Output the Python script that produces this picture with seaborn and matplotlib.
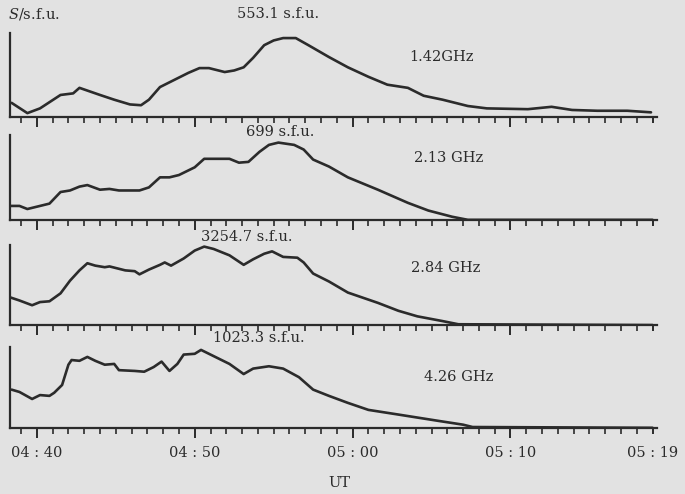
# radio burst light curves at four frequencies
import numpy as np
import pandas as pd
from matplotlib import pyplot as plt
import seaborn as sns

# time in minutes after 04:40 UT, flux relative to the peak of each band
t_142 = [-1.6, -0.6, 0.2, 1.5, 2.3, 2.7, 4.0, 4.9, 5.9, 6.6, 7.1, 7.8, 8.7, 9.6, 10.3, 10.9,
         11.9, 12.5, 13.1, 13.7, 14.4, 15.0, 15.6, 16.4, 17.2, 18.5, 19.7, 21.0, 22.2, 23.5,
         24.5, 25.7, 27.3, 28.5, 31.1, 32.6, 33.9, 35.5, 37.4, 38.9]
f_142 = [0.18, 0.05, 0.11, 0.28, 0.30, 0.37, 0.28, 0.22, 0.16, 0.15, 0.22, 0.38, 0.47, 0.56,
         0.62, 0.62, 0.57, 0.59, 0.63, 0.75, 0.91, 0.97, 1.00, 1.00, 0.91, 0.76, 0.63, 0.51,
         0.41, 0.37, 0.27, 0.22, 0.14, 0.11, 0.10, 0.13, 0.09, 0.08, 0.08, 0.06]

t_213 = [-1.7, -1.1, -0.6, 0.2, 0.8, 1.5, 2.1, 2.7, 3.2, 4.0, 4.6, 5.2, 6.5, 7.1, 7.8, 8.4,
         9.0, 10.0, 10.6, 11.2, 12.2, 12.8, 13.4, 14.1, 14.7, 15.3, 16.3, 16.9, 17.5, 18.5,
         19.7, 21.6, 23.5, 24.8, 26.3, 27.3, 39.0]
f_213 = [0.18, 0.18, 0.14, 0.18, 0.21, 0.36, 0.38, 0.43, 0.45, 0.39, 0.40, 0.38, 0.38, 0.42,
         0.55, 0.55, 0.58, 0.68, 0.79, 0.79, 0.79, 0.74, 0.75, 0.88, 0.97, 1.00, 0.97, 0.91,
         0.78, 0.69, 0.55, 0.39, 0.22, 0.12, 0.04, 0.0, 0.0]

t_284 = [-1.7, -1.1, -0.3, 0.2, 0.8, 1.5, 2.1, 2.7, 3.2, 3.7, 4.3, 4.6, 5.6, 6.2, 6.5, 7.1,
         7.8, 8.1, 8.5, 9.3, 10.0, 10.6, 11.2, 12.2, 13.1, 13.7, 14.4, 14.9, 15.6, 16.5, 16.9,
         17.5, 18.5, 19.7, 21.6, 22.9, 24.1, 25.7, 26.7, 39.0]
f_284 = [0.35, 0.31, 0.25, 0.29, 0.30, 0.40, 0.56, 0.69, 0.78, 0.75, 0.73, 0.74, 0.69, 0.68,
         0.64, 0.70, 0.76, 0.79, 0.75, 0.84, 0.94, 0.99, 0.96, 0.88, 0.76, 0.83, 0.90, 0.93,
         0.86, 0.85, 0.79, 0.65, 0.55, 0.41, 0.28, 0.18, 0.11, 0.05, 0.01, 0.0]

t_426 = [-1.6, -1.1, -0.3, 0.2, 0.8, 1.1, 1.6, 2.0, 2.2, 2.7, 3.2, 3.7, 4.3, 4.9, 5.2, 6.2,
         6.8, 7.4, 7.9, 8.4, 8.9, 9.3, 10.0, 10.4, 11.2, 12.2, 13.1, 13.7, 14.7, 15.6, 16.6,
         17.5, 18.5, 19.7, 21.0, 22.9, 25.4, 27.0, 27.6, 39.0]
f_426 = [0.49, 0.46, 0.37, 0.42, 0.41, 0.45, 0.55, 0.81, 0.87, 0.86, 0.91, 0.86, 0.81, 0.82,
         0.74, 0.73, 0.72, 0.78, 0.85, 0.73, 0.82, 0.94, 0.95, 1.00, 0.92, 0.82, 0.69, 0.76,
         0.79, 0.76, 0.65, 0.49, 0.41, 0.32, 0.23, 0.17, 0.09, 0.04, 0.01, 0.0]

bands = ['1.42GHz', '2.13 GHz', '2.84 GHz', '4.26 GHz']
peaks = [553.1, 699, 3254.7, 1023.3]
tick_pos = [0, 10, 20, 30, 39]
tick_labels = ['04 : 40', '04 : 50', '05 : 00', '05 : 10', '05 : 19']

times = [t_142, t_213, t_284, t_426]
fluxes = [f_142, f_213, f_284, f_426]

# panel boxes (figure fraction), headroom above peak, label spots
boxes = [[0.0146, 0.763, 0.945, 0.170],
         [0.0146, 0.555, 0.945, 0.172],
         [0.0146, 0.342, 0.945, 0.162],
         [0.0146, 0.134, 0.945, 0.164]]
head = [1.063, 1.10, 1.01, 1.04]
peak_lab = [(15.3, 1.226), (15.4, 1.035), (13.3, 1.10), (14.05, 1.11)]
band_lab = [(25.6, 0.71), (26.1, 0.73), (25.9, 0.71), (26.7, 0.63)]

ink = '#2b2b2b'
paper = '#e2e2e2'

sns.set_theme(style='white')
plt.rcParams['font.family'] = ['DejaVu Serif']
plt.rcParams['mathtext.fontset'] = 'dejavuserif'

fig = plt.figure(figsize=(6.85, 4.94), dpi=100, facecolor=paper)

for i in range(4):
    ax = fig.add_axes(boxes[i])
    ax.set_facecolor(paper)
    df = pd.DataFrame({'t': times[i], 'S': np.array(fluxes[i]) * peaks[i]})
    sns.lineplot(data=df, x='t', y='S', color=ink, linewidth=1.9, ax=ax)
    ax.set_xlim(-1.7, 39.3)
    ax.set_ylim(0, peaks[i] * head[i])

    sns.despine(ax=ax)
    for s in ['left', 'bottom']:
        ax.spines[s].set_color(ink)
        ax.spines[s].set_linewidth(1.6)

    ax.set_yticks([])
    ax.set_xticks(tick_pos)
    ax.set_xticks(np.arange(-1, 40, 1), minor=True)
    ax.tick_params(axis='x', which='major', direction='out', length=7, width=1.4,
                   color=ink, pad=6, labelsize=10.5, labelcolor=ink, bottom=True)
    ax.tick_params(axis='x', which='minor', direction='out', length=4, width=1.2,
                   color=ink, bottom=True)
    ax.xaxis.get_major_ticks()[-1].tick1line.set_markersize(4)
    if i == 3:
        ax.set_xticklabels(tick_labels)
    else:
        ax.set_xticklabels([])
    ax.set_xlabel(None)
    ax.set_ylabel(None)

    ax.annotate(f'{peaks[i]} s.f.u.', xy=peak_lab[i], xycoords=('data', 'axes fraction'),
                ha='center', va='center', fontsize=10.5, color=ink)
    ax.annotate(bands[i], xy=band_lab[i], xycoords=('data', 'axes fraction'),
                ha='center', va='center', fontsize=10.5, color=ink)

fig.text(0.012, 0.972, '$S$/s.f.u.', ha='left', va='center', fontsize=10.5, color=ink)
fig.text(0.496, 0.022, 'UT', ha='center', va='center', fontsize=10.5, color=ink)

plt.savefig('out.png', dpi=100, facecolor=paper)
